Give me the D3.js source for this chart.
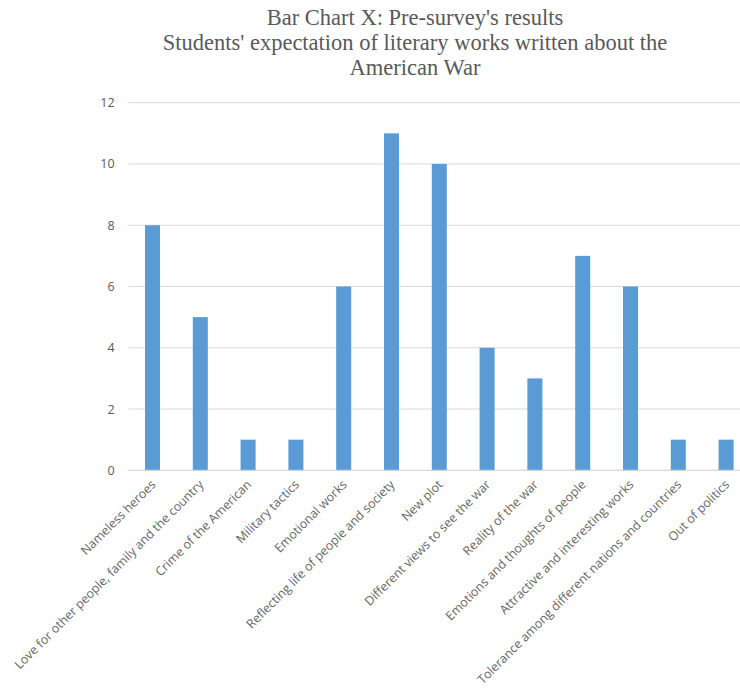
<!DOCTYPE html>
<html>
<head>
<meta charset="utf-8">
<script src="https://cdn.jsdelivr.net/npm/d3@7"></script>
<style>
  html, body { margin: 0; padding: 0; background: #ffffff; }
  svg { display: block; }
</style>
</head>
<body>
<script>
// Survey categories and response counts
const categories = [
  "Nameless heroes",
  "Love for other people, family and the country",
  "Crime of the American",
  "Military tactics",
  "Emotional works",
  "Reflecting life of people and society",
  "New plot",
  "Different views to see the war",
  "Reality of the war",
  "Emotions and thoughts of people",
  "Attractive and interesting works",
  "Tolerance among different nations and countries",
  "Out of politics"
];
const counts = [8, 5, 1, 1, 6, 11, 10, 4, 3, 7, 6, 1, 1];
const yTicks = [0, 2, 4, 6, 8, 10, 12];
const titleLines = [
  "Bar Chart X: Pre-survey's results",
  "Students' expectation of literary works written about the",
  "American War"
];

const width = 740, height = 695;
const plot = { left: 128.6, right: 750, top: 102.7, bottom: 470.3 };

const svg = d3.select("body").append("svg")
  .attr("width", width)
  .attr("height", height);

// Title
svg.append("g")
  .selectAll("text")
  .data(titleLines)
  .join("text")
  .attr("x", 415)
  .attr("y", (d, i) => 25 + i * 25)
  .attr("text-anchor", "middle")
  .attr("font-family", "'Liberation Serif', 'Times New Roman', serif")
  .attr("font-size", 22.5)
  .attr("fill", "#595959")
  .text(d => d);

const x = d3.scaleBand()
  .domain(categories)
  .range([plot.left, plot.right])
  .paddingInner(0.686)
  .paddingOuter(0.343);

const y = d3.scaleLinear()
  .domain([0, 12])
  .range([plot.bottom, plot.top]);

// Horizontal gridlines
svg.append("g")
  .selectAll("line")
  .data(yTicks)
  .join("line")
  .attr("x1", plot.left)
  .attr("x2", plot.right)
  .attr("y1", d => y(d))
  .attr("y2", d => y(d))
  .attr("stroke", "#d9d9d9")
  .attr("stroke-width", 1);

// Y axis labels
const yAxis = d3.axisLeft(y).tickValues(yTicks).tickSize(0).tickPadding(14);
const gy = svg.append("g")
  .attr("transform", `translate(${plot.left},0)`)
  .call(yAxis);
gy.select(".domain").remove();
gy.selectAll("text")
  .attr("font-family", "'Open Sans', sans-serif")
  .attr("font-size", 12.5)
  .attr("fill", "#595959");

// Bars
svg.append("g")
  .selectAll("rect")
  .data(counts)
  .join("rect")
  .attr("x", (d, i) => x(categories[i]))
  .attr("width", x.bandwidth())
  .attr("y", d => y(d))
  .attr("height", d => y(0) - y(d))
  .attr("fill", "#5b9bd5");

// Baseline
svg.append("line")
  .attr("x1", plot.left)
  .attr("x2", plot.right)
  .attr("y1", y(0))
  .attr("y2", y(0))
  .attr("stroke", "#d9d9d9")
  .attr("stroke-width", 1);

// Rotated category labels
const xAxis = d3.axisBottom(x).tickSize(0).tickPadding(0);
const gx = svg.append("g")
  .attr("transform", `translate(0,${plot.bottom})`)
  .call(xAxis);
gx.select(".domain").remove();
gx.selectAll("text")
  .attr("font-family", "'Open Sans', sans-serif")
  .attr("font-size", 12.4)
  .attr("fill", "#666666")
  .attr("text-anchor", "end")
  .attr("dy", null)
  .attr("transform", "translate(4,15) rotate(-45)");
</script>
</body>
</html>
